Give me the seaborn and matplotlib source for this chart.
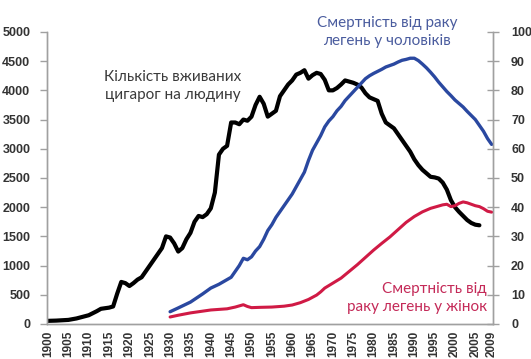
import numpy as np
import matplotlib
matplotlib.use("Agg")
import matplotlib.pyplot as plt
import seaborn as sns
from matplotlib.ticker import MultipleLocator

# cigarettes per person (left axis)
cig_years = [1900, 1902, 1905, 1907, 1910, 1912, 1913, 1915, 1916, 1917, 1918, 1919,
             1920, 1921, 1922, 1923, 1924, 1925, 1926, 1927, 1928, 1929, 1930, 1931,
             1932, 1933, 1934, 1935, 1936, 1937, 1938, 1939, 1940, 1941, 1942, 1943,
             1944, 1945, 1946, 1947, 1948, 1949, 1950, 1951, 1952, 1953, 1954, 1955,
             1956, 1957, 1958, 1959, 1960, 1961, 1962, 1963, 1964, 1965, 1966, 1967,
             1968, 1969, 1970, 1971, 1972, 1973, 1974, 1975, 1976, 1977, 1978, 1979,
             1980, 1981, 1982, 1983, 1984, 1985, 1986, 1987, 1988, 1989, 1990, 1991,
             1992, 1993, 1994, 1995, 1996, 1997, 1998, 1999, 2000, 2001, 2002, 2003,
             2004, 2005, 2006]
cig_values = [54, 58, 70, 95, 150, 220, 260, 280, 300, 520, 720, 700,
              650, 700, 760, 800, 900, 1000, 1100, 1200, 1300, 1500, 1480, 1380,
              1240, 1300, 1450, 1560, 1750, 1850, 1830, 1880, 1980, 2250, 2900, 3000,
              3050, 3450, 3450, 3420, 3500, 3480, 3550, 3750, 3890, 3770, 3550, 3600,
              3650, 3900, 4000, 4100, 4170, 4270, 4300, 4345, 4200, 4260, 4300, 4280,
              4180, 4000, 4000, 4040, 4100, 4170, 4150, 4130, 4100, 4050, 3950, 3880,
              3850, 3820, 3600, 3450, 3400, 3350, 3250, 3150, 3050, 2950, 2820, 2720,
              2640, 2580, 2520, 2510, 2490, 2420, 2300, 2120, 2000, 1920, 1850, 1780,
              1730, 1700, 1690]

# lung cancer deaths, men (right axis)
men_years = [1930, 1932, 1935, 1938, 1940, 1942, 1944, 1945, 1946, 1947, 1948, 1949,
             1950, 1951, 1952, 1953, 1954, 1955, 1956, 1957, 1958, 1959, 1960, 1961,
             1962, 1963, 1964, 1965, 1966, 1967, 1968, 1969, 1970, 1971, 1972, 1973,
             1974, 1975, 1976, 1977, 1978, 1979, 1980, 1981, 1982, 1983, 1984, 1985,
             1986, 1987, 1988, 1989, 1990, 1991, 1992, 1993, 1994, 1995, 1996, 1997,
             1998, 1999, 2000, 2001, 2002, 2003, 2004, 2005, 2006, 2007, 2008, 2009]
men_values = [4.2, 5.5, 7.5, 10.3, 12.3, 13.6, 15.2, 16, 18, 20, 22.5, 22,
              23, 25, 26.5, 29, 32, 34, 36.5, 38.5, 40.5, 42.5, 44.5, 47,
              49.5, 52, 56, 59.5, 62, 64.5, 67.5, 69.5, 71, 73, 74.5, 76.5,
              78, 79.5, 81, 82.5, 84, 85, 85.8, 86.5, 87.2, 88, 88.5, 89,
              89.7, 90.3, 90.6, 91, 91, 90.2, 89, 87.7, 86.2, 84.6, 82.8, 81.2,
              79.6, 78.2, 76.7, 75.5, 74.3, 72.8, 71.4, 70, 68, 66, 63.5, 61.5]

# lung cancer deaths, women (right axis)
women_years = [1930, 1932, 1935, 1938, 1940, 1942, 1944, 1946, 1948, 1949, 1950, 1952,
               1955, 1958, 1960, 1962, 1964, 1966, 1967, 1968, 1970, 1972, 1974, 1976,
               1978, 1980, 1982, 1984, 1986, 1988, 1990, 1992, 1994, 1996, 1997, 1998,
               1999, 2000, 2001, 2002, 2003, 2004, 2005, 2006, 2007, 2008, 2009]
women_values = [2.4, 3, 3.8, 4.4, 4.8, 5, 5.2, 5.8, 6.6, 6, 5.6, 5.7,
                5.8, 6.1, 6.5, 7.3, 8.4, 9.9, 11, 12.3, 14, 15.7, 18, 20.3,
                22.8, 25.3, 27.6, 29.8, 32.3, 34.8, 36.8, 38.4, 39.6, 40.4, 40.8, 41,
                40.2, 40.5, 41.3, 41.8, 41.5, 41, 40.5, 40.2, 39.5, 38.6, 38.3]

xtick_labels = list(range(1900, 2010, 5)) + [2009]

sns.set_style("white")
plt.rcParams["font.family"] = ["Liberation Sans", "DejaVu Sans"]

fig = plt.figure(figsize=(5.31, 3.59), dpi=100)
ax = fig.add_axes([0.0885, 0.0975, 0.84, 0.8135])
ax2 = ax.twinx()

sns.lineplot(x=cig_years, y=cig_values, ax=ax, color="black", lw=3.0)
sns.lineplot(x=men_years, y=men_values, ax=ax2, color="#2a48a0", lw=2.4)
sns.lineplot(x=women_years, y=women_values, ax=ax2, color="#d01a45", lw=2.2)

ax.set_xlim(1899.75, 2009.35)
ax.set_ylim(0, 5000)
ax2.set_ylim(0, 100)

spine_c = "#a0a0a0"
for a in (ax, ax2):
    a.spines["top"].set_visible(False)
    for s in ("left", "right", "bottom"):
        a.spines[s].set_color(spine_c)
        a.spines[s].set_linewidth(1.0)

ax.set_yticks(np.arange(0, 5001, 500))
ax.tick_params(axis="y", direction="out", length=5, width=1, color=spine_c,
               pad=7, labelsize=9, labelcolor="#333333")
ax2.set_yticks(np.arange(0, 101, 10))
ax2.tick_params(axis="y", direction="inout", length=8, width=1, color=spine_c,
                pad=9, labelsize=9, labelcolor="#333333")

ax.set_xticks(xtick_labels)
ax.set_xticklabels([str(y) for y in xtick_labels], rotation=90)
ax.xaxis.set_minor_locator(MultipleLocator(1))
ax.tick_params(axis="x", which="both", direction="out", length=3, width=0.8,
               color=spine_c, pad=2, labelsize=8.5, labelcolor="#333333")
ax2.tick_params(axis="x", which="both", length=0)

for lab in ax.get_xticklabels() + ax.get_yticklabels() + ax2.get_yticklabels():
    lab.set_fontweight("bold")

txt_font = ["Lato", "DejaVu Sans"]
fig.text(173 / 531, 1 - 86 / 359, "Кількість вживаних\nцигарог на людину",
         ha="center", va="center", fontsize=11, color="#3a3a3a",
         family=txt_font, linespacing=1.3)
fig.text(387 / 531, 1 - 32 / 359, "Смертність від раку\nлегень у чоловіків",
         ha="center", va="center", fontsize=11, color="#4a5c9e",
         family=txt_font, linespacing=1.3)
fig.text(487 / 531, 1 - 298 / 359, "Смертність від\nраку легень у жінок",
         ha="right", va="center", fontsize=11, color="#c42a58",
         family=txt_font, linespacing=1.3, multialignment="right")

fig.savefig("out.png", dpi=100)
